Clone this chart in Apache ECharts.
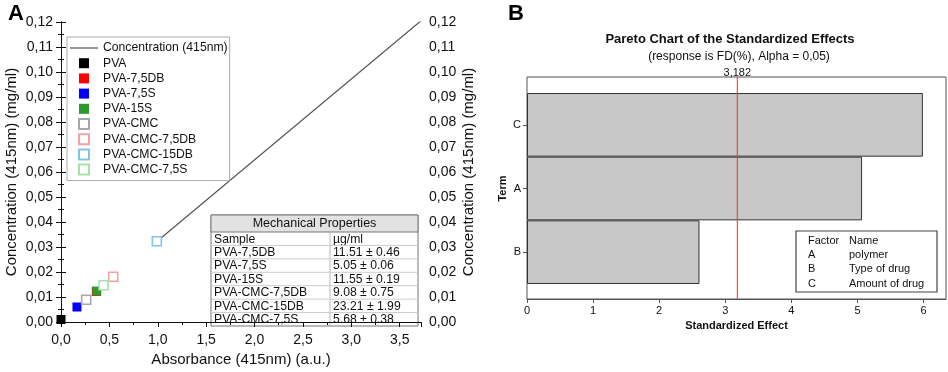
<!DOCTYPE html>
<html>
<head>
<meta charset="utf-8">
<script src="https://cdn.jsdelivr.net/npm/echarts@6/dist/echarts.min.js"></script>
<style>
  html, body { margin: 0; padding: 0; background: #fff; }
  #chart { width: 948px; height: 372px; }
</style>
</head>
<body>
<div id="chart"></div>
<script>
// panel A : calibration line + samples
const lineX = [1.0, 3.72];
const lineY = [0.0325, 0.1205];
const sampleNames = ['PVA', 'PVA-7,5DB', 'PVA-7,5S', 'PVA-15S', 'PVA-CMC', 'PVA-CMC-7,5DB', 'PVA-CMC-15DB', 'PVA-CMC-7,5S'];
const sampleX = [0.0, 0.365, 0.165, 0.37, 0.26, 0.54, 0.99, 0.44];
const sampleY = [0.001, 0.0122, 0.006, 0.0124, 0.0089, 0.0181, 0.0323, 0.0147];
const sampleColors = ['#000000', '#ff0000', '#0000ff', '#2e9a2e', '#a8a8a8', '#f2a4a4', '#86c2ee', '#a8e2a8'];
const sampleFilled = [true, true, true, true, false, false, false, false];

// mechanical properties table
const tableTitle = 'Mechanical Properties';
const tableHeader = ['Sample', 'µg/ml'];
const tableSamples = ['PVA-7,5DB', 'PVA-7,5S', 'PVA-15S', 'PVA-CMC-7,5DB', 'PVA-CMC-15DB', 'PVA-CMC-7,5S'];
const tableValues = ['11.51 ± 0.46', '5.05 ± 0.06', '11.55 ± 0.19', '9.08 ± 0.75', '23.21 ± 1.99', '5.68 ± 0.38'];

// panel B : pareto
const terms = ['C', 'A', 'B'];
const effects = [5.99, 5.07, 2.61];
const criticalValue = 3.182;
const factorLetters = ['A', 'B', 'C'];
const factorNames = ['polymer', 'Type of drug', 'Amount of drug'];

const chart = echarts.init(document.getElementById('chart'));
const fontA = 'Liberation Sans';
const comma = (v, d) => v.toFixed(d).replace('.', ',');

// table drawn as graphic boxes
const tb = { left: 211, top: 215, right: 418, bottom: 326, headH: 17, split: 330 };
const rowH = (tb.bottom - tb.top - tb.headH) / (tableSamples.length + 1);
const tableEls = [];
tableEls.push({ type: 'rect', shape: { x: tb.left, y: tb.top, width: tb.right - tb.left, height: tb.bottom - tb.top },
  style: { fill: '#fff', stroke: '#777', lineWidth: 1 } });
tableEls.push({ type: 'rect', shape: { x: tb.left, y: tb.top, width: tb.right - tb.left, height: tb.headH },
  style: { fill: '#e2e2e2', stroke: '#777', lineWidth: 1 } });
tableEls.push({ type: 'text', x: (tb.left + tb.right) / 2, y: tb.top + tb.headH / 2,
  style: { text: tableTitle, fontSize: 12.5, fontFamily: fontA, fill: '#111', align: 'center', verticalAlign: 'middle' } });
tableEls.push({ type: 'line', shape: { x1: tb.split, y1: tb.top + tb.headH, x2: tb.split, y2: tb.bottom }, style: { stroke: '#bbb' } });
const rows = [tableHeader].concat(tableSamples.map((s, i) => [s, tableValues[i]]));
rows.forEach((r, i) => {
  const y0 = tb.top + tb.headH + i * rowH;
  if (i > 0) tableEls.push({ type: 'line', shape: { x1: tb.left, y1: y0, x2: tb.right, y2: y0 }, style: { stroke: '#ccc' } });
  tableEls.push({ type: 'text', x: tb.left + 3, y: y0 + rowH / 2 + 0.5,
    style: { text: r[0], fontSize: 12.2, fontFamily: fontA, fill: '#111', verticalAlign: 'middle' } });
  tableEls.push({ type: 'text', x: tb.split + 3, y: y0 + rowH / 2 + 0.5,
    style: { text: r[1], fontSize: 12.2, fontFamily: fontA, fill: '#111', verticalAlign: 'middle' } });
});

// factor box of panel B
const fb = { left: 796, top: 231, right: 937, bottom: 292 };
const factorEls = [{ type: 'rect', shape: { x: fb.left, y: fb.top, width: fb.right - fb.left, height: fb.bottom - fb.top },
  style: { fill: '#fff', stroke: '#444', lineWidth: 1.2 } }];
[['Factor', 'Name']].concat(factorLetters.map((f, i) => [f, factorNames[i]])).forEach((r, i) => {
  const y = fb.top + 10 + i * 14.2;
  factorEls.push({ type: 'text', x: 808, y: y, style: { text: r[0], fontSize: 11, fontFamily: fontA, fill: '#111', verticalAlign: 'middle' } });
  factorEls.push({ type: 'text', x: 849, y: y, style: { text: r[1], fontSize: 11, fontFamily: fontA, fill: '#111', verticalAlign: 'middle' } });
});

const scatterSeries = sampleNames.map((name, i) => ({
  name: name,
  type: 'scatter',
  xAxisIndex: 0,
  yAxisIndex: 0,
  symbol: 'rect',
  symbolSize: 9,
  data: [[sampleX[i], sampleY[i]]],
  itemStyle: sampleFilled[i]
    ? { color: sampleColors[i], opacity: 1 }
    : { color: '#fff', borderColor: sampleColors[i], borderWidth: 1.6, opacity: 1 },
  z: 3
}));

const yLabelA = { fontSize: 14, fontFamily: fontA, color: '#111', margin: 8, formatter: v => comma(v, 2) };

const option = {
  animation: false,
  title: [
    { text: 'A', left: 3, top: -2, textStyle: { fontSize: 22, fontWeight: 'bold', fontFamily: fontA, color: '#000' } },
    { text: 'B', left: 503, top: -2, textStyle: { fontSize: 22, fontWeight: 'bold', fontFamily: fontA, color: '#000' } },
    { text: 'Pareto Chart of the Standardized Effects', left: 725, top: 28, textAlign: 'center',
      textStyle: { fontSize: 13, fontWeight: 'bold', fontFamily: fontA, color: '#111' } },
    { text: '(response is FD(%), Alpha = 0,05)', left: 734, top: 46, textAlign: 'center',
      textStyle: { fontSize: 12, fontWeight: 'normal', fontFamily: fontA, color: '#111' } }
  ],
  legend: {
    orient: 'vertical',
    left: 67,
    top: 37,
    padding: [5, 2, 5, 3],
    itemWidth: 28,
    itemHeight: 10,
    itemGap: 3.2,
    borderColor: '#aaa',
    borderWidth: 1,
    backgroundColor: '#fff',
    z: 5,
    textStyle: { fontSize: 12.2, fontFamily: fontA, color: '#111' },
    data: [{ name: 'Concentration (415nm)', icon: 'path://M0,0H28V1.2H0Z' }]
      .concat(sampleNames.map(n => ({ name: n, icon: 'path://M0,0H10V10H0Z' })))
  },
  grid: [
    { left: 61, top: 22, width: 360, height: 304 },
    { left: 527, top: 77, width: 419, height: 222, show: true, borderColor: '#555', borderWidth: 1 },
    { left: 527, top: 93, width: 419, height: 191 }
  ],
  xAxis: [
    { type: 'value', gridIndex: 0, min: 0, max: 3.72, interval: 0.5, position: 'bottom',
      axisLine: { lineStyle: { color: '#111' } },
      axisTick: { length: 5, lineStyle: { color: '#111' } },
      minorTick: { show: true, splitNumber: 2, length: 3, lineStyle: { color: '#111' } },
      splitLine: { show: false },
      axisLabel: { fontSize: 14, fontFamily: fontA, color: '#111', margin: 11, showMaxLabel: false,
        formatter: v => (Math.abs(v / 0.5 - Math.round(v / 0.5)) < 1e-6 ? comma(v, 1) : '') },
      name: 'Absorbance (415nm) (a.u.)', nameLocation: 'middle', nameGap: 30,
      nameTextStyle: { fontSize: 15, fontFamily: fontA, color: '#111' } },
    { type: 'value', gridIndex: 0, min: 0, max: 3.72, interval: 0.5, position: 'top',
      axisLine: { lineStyle: { color: '#111' } },
      axisTick: { inside: true, length: 5, lineStyle: { color: '#111' } },
      minorTick: { show: true, splitNumber: 2, length: 3, lineStyle: { color: '#111' } },
      splitLine: { show: false }, axisLabel: { show: false } },
    { type: 'value', gridIndex: 1, min: 0, max: 6.34, interval: 1,
      axisLine: { lineStyle: { color: '#555' } },
      axisTick: { length: 4, lineStyle: { color: '#555' } },
      splitLine: { show: false },
      axisLabel: { fontSize: 11, fontFamily: fontA, color: '#111', margin: 6, showMaxLabel: false,
        formatter: v => (Number.isInteger(v) ? String(v) : '') },
      name: 'Standardized Effect', nameLocation: 'middle', nameGap: 20,
      nameTextStyle: { fontSize: 11, fontWeight: 'bold', fontFamily: fontA, color: '#111' } },
    { type: 'value', gridIndex: 2, min: 0, max: 6.34, show: false }
  ],
  yAxis: [
    { type: 'value', gridIndex: 0, min: 0, max: 0.12, interval: 0.01, position: 'left',
      axisLine: { show: true, lineStyle: { color: '#111' } },
      axisTick: { show: true, length: 5, lineStyle: { color: '#111' } },
      minorTick: { show: true, splitNumber: 2, length: 3, lineStyle: { color: '#111' } },
      splitLine: { show: false }, axisLabel: yLabelA,
      name: 'Concentration (415nm) (mg/ml)', nameLocation: 'middle', nameGap: 42,
      nameTextStyle: { fontSize: 15, fontFamily: fontA, color: '#111' } },
    { type: 'value', gridIndex: 0, min: 0, max: 0.12, interval: 0.01, position: 'right',
      axisLine: { show: true, lineStyle: { color: '#111' } },
      axisTick: { show: true, length: 5, lineStyle: { color: '#111' } },
      minorTick: { show: true, splitNumber: 2, length: 3, lineStyle: { color: '#111' } },
      splitLine: { show: false }, axisLabel: yLabelA,
      name: 'Concentration (415nm) (mg/ml)', nameLocation: 'middle', nameGap: 40,
      nameTextStyle: { fontSize: 15, fontFamily: fontA, color: '#111' } },
    { type: 'value', gridIndex: 1, min: 0, max: 1, show: false },
    { type: 'category', gridIndex: 2, data: terms, inverse: true,
      axisLine: { show: false },
      axisTick: { show: true, alignWithLabel: true, length: 4, lineStyle: { color: '#555' } },
      axisLabel: { fontSize: 11, fontFamily: fontA, color: '#111', margin: 6 },
      name: 'Term', nameLocation: 'middle', nameGap: 19,
      nameTextStyle: { fontSize: 11, fontWeight: 'bold', fontFamily: fontA, color: '#111' } }
  ],
  series: [
    { name: 'Concentration (415nm)', type: 'line', xAxisIndex: 0, yAxisIndex: 0, symbol: 'none',
      data: lineX.map((x, i) => [x, lineY[i]]),
      itemStyle: { color: '#555' }, lineStyle: { color: '#555', width: 1.2 } }
  ].concat(scatterSeries).concat([
    { type: 'bar', xAxisIndex: 3, yAxisIndex: 3, data: effects, barWidth: '100%',
      itemStyle: { color: '#c8c8c8', borderColor: '#333', borderWidth: 1 } },
    { type: 'line', xAxisIndex: 2, yAxisIndex: 2, symbol: 'circle', symbolSize: 0.1,
      data: [[criticalValue, 0], { value: [criticalValue, 1],
        label: { show: true, position: 'top', distance: -2, formatter: comma(criticalValue, 3),
          fontSize: 11, fontFamily: fontA, color: '#111' } }],
      itemStyle: { color: '#ff2a2a' }, lineStyle: { color: '#ff2a2a', width: 1 }, z: 4 }
  ]),
  graphic: tableEls.concat(factorEls)
};

chart.setOption(option);
</script>
</body>
</html>
